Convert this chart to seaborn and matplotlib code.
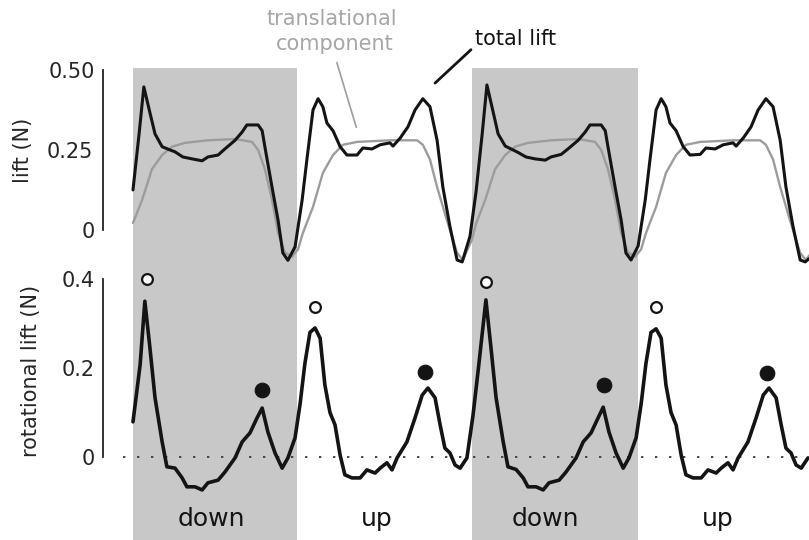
import numpy as np
import pandas as pd
import matplotlib
matplotlib.use("Agg")
import matplotlib.pyplot as plt
import seaborn as sns

sns.set_style("white")
plt.rcParams['font.family'] = ['DejaVu Sans']

# time in wingbeat cycles (0-0.48 down, 0.48-1 up, ...)
stroke_edges = [0.0, 0.484, 1.0, 1.490, 1.994]
stroke_names = ['down', 'up', 'down', 'up']
label_t = [0.232, 0.72, 1.215, 1.725]

# total lift (N)
total_t = [0.000, 0.018, 0.032, 0.050, 0.065, 0.086, 0.109, 0.124, 0.147, 0.174, 0.204, 0.221,
           0.251, 0.271, 0.301, 0.322, 0.336, 0.369, 0.381, 0.389, 0.410, 0.428, 0.442, 0.457,
           0.478, 0.499, 0.513, 0.531, 0.546, 0.560, 0.572, 0.590, 0.611, 0.631, 0.661, 0.678,
           0.705, 0.729, 0.758, 0.767, 0.788, 0.811, 0.832, 0.855, 0.876, 0.897, 0.914, 0.935,
           0.956, 0.971, 0.994,
           1.012, 1.030, 1.044, 1.062, 1.077, 1.098, 1.121, 1.136, 1.159, 1.186, 1.216, 1.233,
           1.263, 1.283, 1.313, 1.334, 1.348, 1.381, 1.393, 1.401, 1.422, 1.440, 1.454, 1.469,
           1.490, 1.511, 1.525, 1.543, 1.558, 1.572, 1.584, 1.602, 1.623, 1.643, 1.673, 1.690,
           1.717, 1.741, 1.770, 1.779, 1.800, 1.823, 1.844, 1.867, 1.888, 1.909, 1.926, 1.947,
           1.968, 1.983, 1.994]
total_lift = [0.125, 0.30, 0.447, 0.366, 0.30, 0.26, 0.25, 0.244, 0.228, 0.222, 0.216, 0.228,
              0.234, 0.253, 0.28, 0.306, 0.328, 0.328, 0.31, 0.26, 0.134, 0.03, -0.072, -0.095,
              -0.053, 0.094, 0.22, 0.375, 0.41, 0.385, 0.334, 0.31, 0.26, 0.234, 0.234, 0.256,
              0.253, 0.266, 0.272, 0.262, 0.287, 0.322, 0.375, 0.41, 0.385, 0.28, 0.134, 0.01,
              -0.094, -0.10, -0.02,
              0.12, 0.30, 0.453, 0.37, 0.30, 0.262, 0.25, 0.242, 0.228, 0.222, 0.218, 0.228,
              0.236, 0.253, 0.28, 0.306, 0.328, 0.328, 0.31, 0.26, 0.134, 0.03, -0.072, -0.094,
              -0.05, 0.094, 0.22, 0.375, 0.41, 0.385, 0.334, 0.31, 0.26, 0.234, 0.236, 0.256,
              0.253, 0.266, 0.272, 0.262, 0.287, 0.322, 0.375, 0.41, 0.385, 0.28, 0.134, 0.01,
              -0.094, -0.10, -0.09]

# translational component (N)
trans_t = [0.000, 0.027, 0.056, 0.086, 0.115, 0.153, 0.221, 0.301, 0.351, 0.369, 0.389, 0.410,
           0.428, 0.448, 0.469, 0.487, 0.501, 0.531, 0.560, 0.590, 0.619, 0.661, 0.758, 0.838,
           0.855, 0.876, 0.897, 0.926, 0.956, 0.973, 1.000,
           1.012, 1.039, 1.068, 1.098, 1.127, 1.165, 1.233, 1.313, 1.363, 1.381, 1.401, 1.422,
           1.440, 1.460, 1.481, 1.499, 1.513, 1.543, 1.572, 1.602, 1.631, 1.673, 1.770, 1.850,
           1.867, 1.888, 1.909, 1.938, 1.968, 1.985, 1.994]
trans_lift = [0.022, 0.094, 0.19, 0.234, 0.26, 0.272, 0.28, 0.284, 0.275, 0.25, 0.19, 0.094,
              -0.01, -0.07, -0.084, -0.06, -0.01, 0.072, 0.178, 0.234, 0.266, 0.275, 0.28, 0.28,
              0.266, 0.22, 0.134, 0.03, -0.072, -0.094, -0.03,
              0.02, 0.094, 0.19, 0.234, 0.26, 0.272, 0.28, 0.284, 0.275, 0.25, 0.19, 0.094,
              -0.01, -0.07, -0.084, -0.06, -0.01, 0.072, 0.178, 0.234, 0.266, 0.275, 0.28, 0.28,
              0.266, 0.22, 0.134, 0.03, -0.072, -0.094, -0.08]

# rotational lift (N)
rot_t = [0.000, 0.021, 0.035, 0.050, 0.065, 0.086, 0.100, 0.124, 0.145, 0.159, 0.183, 0.204,
         0.221, 0.251, 0.271, 0.301, 0.322, 0.345, 0.366, 0.381, 0.398, 0.419, 0.440, 0.457,
         0.478, 0.493, 0.507, 0.522, 0.537, 0.552, 0.566, 0.581, 0.596, 0.611, 0.625, 0.646,
         0.670, 0.690, 0.714, 0.729, 0.749, 0.764, 0.779, 0.808, 0.832, 0.853, 0.870, 0.891,
         0.906, 0.920, 0.935, 0.950, 0.965, 0.985,
         1.003, 1.020, 1.041, 1.056, 1.071, 1.092, 1.106, 1.130, 1.151, 1.165, 1.189, 1.210,
         1.227, 1.257, 1.277, 1.307, 1.328, 1.351, 1.372, 1.387, 1.404, 1.425, 1.446, 1.463,
         1.484, 1.499, 1.513, 1.528, 1.543, 1.558, 1.572, 1.587, 1.602, 1.617, 1.631, 1.652,
         1.676, 1.696, 1.720, 1.735, 1.755, 1.770, 1.785, 1.814, 1.838, 1.859, 1.876, 1.897,
         1.912, 1.926, 1.941, 1.956, 1.971, 1.991]
rot_lift = [0.079, 0.207, 0.35, 0.245, 0.133, 0.034, -0.022, -0.025, -0.047, -0.067, -0.067, -0.074,
            -0.058, -0.052, -0.034, -0.002, 0.034, 0.054, 0.088, 0.11, 0.056, 0.009, -0.025, -0.002,
            0.043, 0.12, 0.21, 0.28, 0.29, 0.267, 0.162, 0.10, 0.072, 0.004, -0.04, -0.047,
            -0.047, -0.029, -0.036, -0.025, -0.013, -0.029, -0.002, 0.034, 0.088, 0.139, 0.155, 0.133,
            0.072, 0.02, 0.009, -0.018, -0.025, -0.002,
            0.094, 0.207, 0.353, 0.245, 0.133, 0.034, -0.022, -0.028, -0.047, -0.067, -0.067, -0.074,
            -0.058, -0.052, -0.034, -0.002, 0.034, 0.054, 0.088, 0.112, 0.056, 0.009, -0.025, -0.002,
            0.043, 0.12, 0.21, 0.28, 0.288, 0.267, 0.162, 0.10, 0.072, 0.004, -0.04, -0.047,
            -0.047, -0.029, -0.036, -0.025, -0.013, -0.029, -0.002, 0.034, 0.088, 0.139, 0.155, 0.133,
            0.072, 0.02, 0.009, -0.018, -0.025, -0.002]

# peak markers: open = stroke start, filled = stroke end
open_t = [0.041, 0.537, 1.041, 1.543]
open_v = [0.40, 0.337, 0.393, 0.337]
filled_t = [0.381, 0.861, 1.389, 1.870]
filled_v = [0.15, 0.19, 0.162, 0.189]

shade_col = '#c8c8c8'
dark = '#141414'
grey = '#9c9c9c'
xlim = (-0.0885, 1.994)
round_lines = dict(solid_joinstyle='round', solid_capstyle='round')

fig = plt.figure(figsize=(8.09, 5.4), dpi=100)
ax1 = fig.add_axes([0.1273, 0.5037, 0.8727, 0.3704])
ax2 = fig.add_axes([0.1273, 0.0, 0.8727, 0.5037])

for ax in (ax1, ax2):
    for i in (0, 2):
        ax.axvspan(stroke_edges[i], stroke_edges[i + 1], color=shade_col, lw=0, zorder=0)
    ax.set_xlim(*xlim)
    ax.set_xticks([])
    for s in ('top', 'right', 'bottom'):
        ax.spines[s].set_visible(False)
    ax.spines['left'].set_linewidth(1.3)
    ax.spines['left'].set_color('#222222')
    ax.patch.set_alpha(0)

# top panel
sns.lineplot(x=trans_t, y=trans_lift, ax=ax1, color=grey, linewidth=1.7, sort=False, zorder=2, **round_lines)
sns.lineplot(x=total_t, y=total_lift, ax=ax1, color=dark, linewidth=2.2, sort=False, zorder=3, **round_lines)
ax1.set_ylim(-0.119, 0.506)
ax1.spines['left'].set_bounds(0, 0.5)
ax1.set_yticks([0, 0.5])
ax1.set_yticklabels(['0', '0.50'])
ax1.set_yticks([0.25], minor=True)
ax1.set_yticklabels(['0.25'], minor=True)
ax1.tick_params(axis='y', which='major', direction='in', length=7, width=1.3, pad=6, labelsize=15)
ax1.tick_params(axis='y', which='minor', direction='inout', length=10, width=1.3, pad=2.5, labelsize=15)
ax1.set_ylabel('')

ax1.annotate('', xy=(0.661, 0.3125), xytext=(0.599, 0.531), annotation_clip=False,
             arrowprops=dict(arrowstyle='-', color=grey, lw=1.2))
ax1.annotate('', xy=(0.885, 0.453), xytext=(1.003, 0.569), annotation_clip=False,
             arrowprops=dict(arrowstyle='-', color=dark, lw=2.0))
ax1.text(0.587, 0.641, 'translational', color='#a6a6a6', fontsize=15, ha='center', va='baseline', clip_on=False)
ax1.text(0.596, 0.5625, 'component', color='#a6a6a6', fontsize=15, ha='center', va='baseline', clip_on=False)
ax1.text(1.009, 0.578, 'total lift', color=dark, fontsize=15, ha='left', va='baseline', clip_on=False)

# bottom panel
ax2.hlines(0, -0.03, xlim[1], colors='#444444', linestyles=(0, (1.2, 6)), linewidth=1.4, zorder=1)
sns.lineplot(x=rot_t, y=rot_lift, ax=ax2, color=dark, linewidth=2.6, sort=False, zorder=3, **round_lines)
sns.scatterplot(x=open_t, y=open_v, ax=ax2, s=60, facecolor='white', edgecolor=dark,
                linewidth=1.6, zorder=4)
sns.scatterplot(x=filled_t, y=filled_v, ax=ax2, s=110, color=dark, edgecolor=dark, zorder=4)
ax2.set_ylim(-0.1865, 0.4247)
ax2.spines['left'].set_bounds(0, 0.4)
ax2.set_yticks([0, 0.2, 0.4])
ax2.set_yticklabels(['0', '0.2', '0.4'])
ax2.set_yticks([0.1, 0.3], minor=True)
ax2.tick_params(axis='y', which='major', direction='in', length=7, width=1.3, pad=6, labelsize=15)
ax2.tick_params(axis='y', which='minor', direction='in', length=7, width=1.3)
ax2.set_ylabel('')

for name, tx in zip(stroke_names, label_t):
    ax2.text(tx, -0.14, name, fontsize=18, ha='center', va='center', color=dark)

fig.text(0.029, 0.722, 'lift (N)', rotation=90, ha='center', va='center', fontsize=15)
fig.text(0.038, 0.313, 'rotational lift (N)', rotation=90, ha='center', va='center', fontsize=15)

fig.savefig('out.png', dpi=100, facecolor='white')
